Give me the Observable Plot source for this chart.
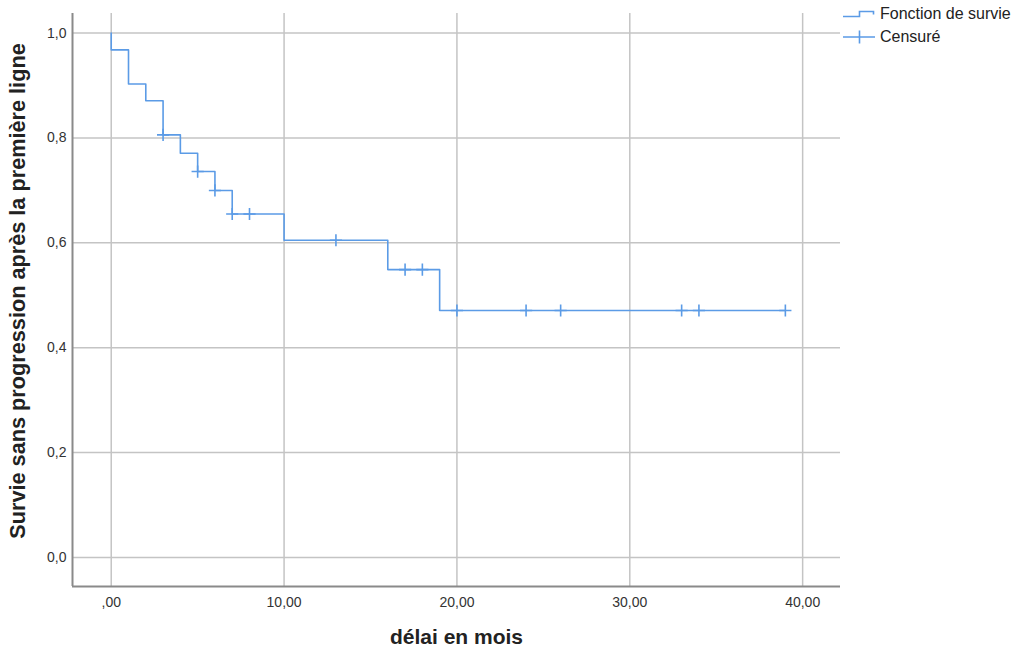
<!DOCTYPE html>
<html>
<head>
<meta charset="utf-8">
<script src="https://cdn.jsdelivr.net/npm/d3@7"></script>
<script src="https://cdn.jsdelivr.net/npm/@observablehq/plot@0.6"></script>
<style>
  html, body { margin: 0; padding: 0; background: #fff; }
  #wrap { position: relative; width: 1023px; height: 651px; font-family: "Liberation Sans", Arial, sans-serif; }
  #legend { position: absolute; left: 842px; top: 2px; font-size: 16px; color: #222; }
  .row { display: flex; align-items: center; height: 23px; }
  .row svg { margin-right: 4px; }
</style>
</head>
<body>
<div id="wrap"></div>
<script>
// Kaplan-Meier step curve (time in months, survival)
const stepTimes = [0, 0, 1, 2, 3, 4, 5, 6, 7, 10, 16, 19, 39];
const stepSurv  = [1.0, 0.968, 0.903, 0.871, 0.806, 0.771, 0.736, 0.700, 0.655, 0.605, 0.549, 0.471, 0.471];
// Censored observations
const censTimes = [3, 5, 6, 7, 8, 13, 17, 18, 20, 24, 26, 33, 34, 39];
const censSurv  = [0.806, 0.736, 0.700, 0.655, 0.655, 0.605, 0.549, 0.549, 0.471, 0.471, 0.471, 0.471, 0.471, 0.471];
// Axis ticks and labels
const xTicks = [0, 10, 20, 30, 40];
const xTickLabels = [",00", "10,00", "20,00", "30,00", "40,00"];
const yTicks = [0, 0.2, 0.4, 0.6, 0.8, 1.0];
const yTickLabels = ["0,0", "0,2", "0,4", "0,6", "0,8", "1,0"];
const xDomain = [-2.24, 42.19];
const yDomain = [-0.0553, 1.0374];
const xTitle = "délai en mois";
const yTitle = "Survie sans progression après la première ligne";
const seriesNames = ["Fonction de survie", "Censuré"];

const blue = "#5b9be6";
const steps = stepTimes.map((t, i) => ({t, s: stepSurv[i]}));
const cens = censTimes.map((t, i) => ({t, s: censSurv[i]}));

const chart = Plot.plot({
  width: 1023,
  height: 651,
  marginLeft: 72,
  marginRight: 183,
  marginTop: 13,
  marginBottom: 65,
  style: { fontFamily: "Liberation Sans, Arial, sans-serif", fontSize: "14px", color: "#333", background: "#fff" },
  x: { domain: xDomain, ticks: xTicks },
  y: { domain: yDomain, ticks: yTicks },
  marks: [
    Plot.gridX(xTicks, { stroke: "#c4c4c4", strokeOpacity: 1, strokeWidth: 1.5 }),
    Plot.gridY(yTicks, { stroke: "#c4c4c4", strokeOpacity: 1, strokeWidth: 1.5 }),
    Plot.ruleX([xDomain[0]], { stroke: "#8a8a8a", strokeWidth: 2 }),
    Plot.ruleY([yDomain[0]], { stroke: "#8a8a8a", strokeWidth: 2 }),
    Plot.axisX(xTicks, { tickSize: 0, tickPadding: 11, fontSize: 14, fill: "#333",
      tickFormat: (d) => xTickLabels[xTicks.indexOf(d)], label: null }),
    Plot.axisY(yTicks, { tickSize: 0, tickPadding: 6, fontSize: 14, fill: "#333",
      tickFormat: (d) => yTickLabels[yTicks.indexOf(d)], label: null }),
    Plot.line(steps, { x: "t", y: "s", curve: "step-after", stroke: blue, strokeWidth: 1.6 }),
    Plot.dot(cens, { x: "t", y: "s", symbol: "plus", r: 4, stroke: blue, strokeWidth: 1.6 }),
    Plot.text([xTitle], { frameAnchor: "bottom", lineAnchor: "middle", textAnchor: "middle", dy: 51, fontSize: 21, fontWeight: "bold", fill: "#222" }),
    Plot.text([yTitle], { frameAnchor: "left", textAnchor: "middle", lineAnchor: "middle", dx: -54, dy: -9, rotate: -90, fontSize: 21.7, fontWeight: "bold", fill: "#222" })
  ]
});

const wrap = document.getElementById("wrap");
wrap.appendChild(chart);

const legend = document.createElement("div");
legend.id = "legend";
legend.innerHTML = `
  <div class="row"><svg width="34" height="14"><path d="M1,9.5H17.5V4.5H31.5V7.5" fill="none" stroke="${blue}" stroke-width="1.6"/></svg><span>${seriesNames[0]}</span></div>
  <div class="row"><svg width="34" height="16"><path d="M1,8H33M17.5,1.5V14.5" fill="none" stroke="${blue}" stroke-width="1.6"/></svg><span>${seriesNames[1]}</span></div>
`;
wrap.appendChild(legend);
</script>
</body>
</html>
